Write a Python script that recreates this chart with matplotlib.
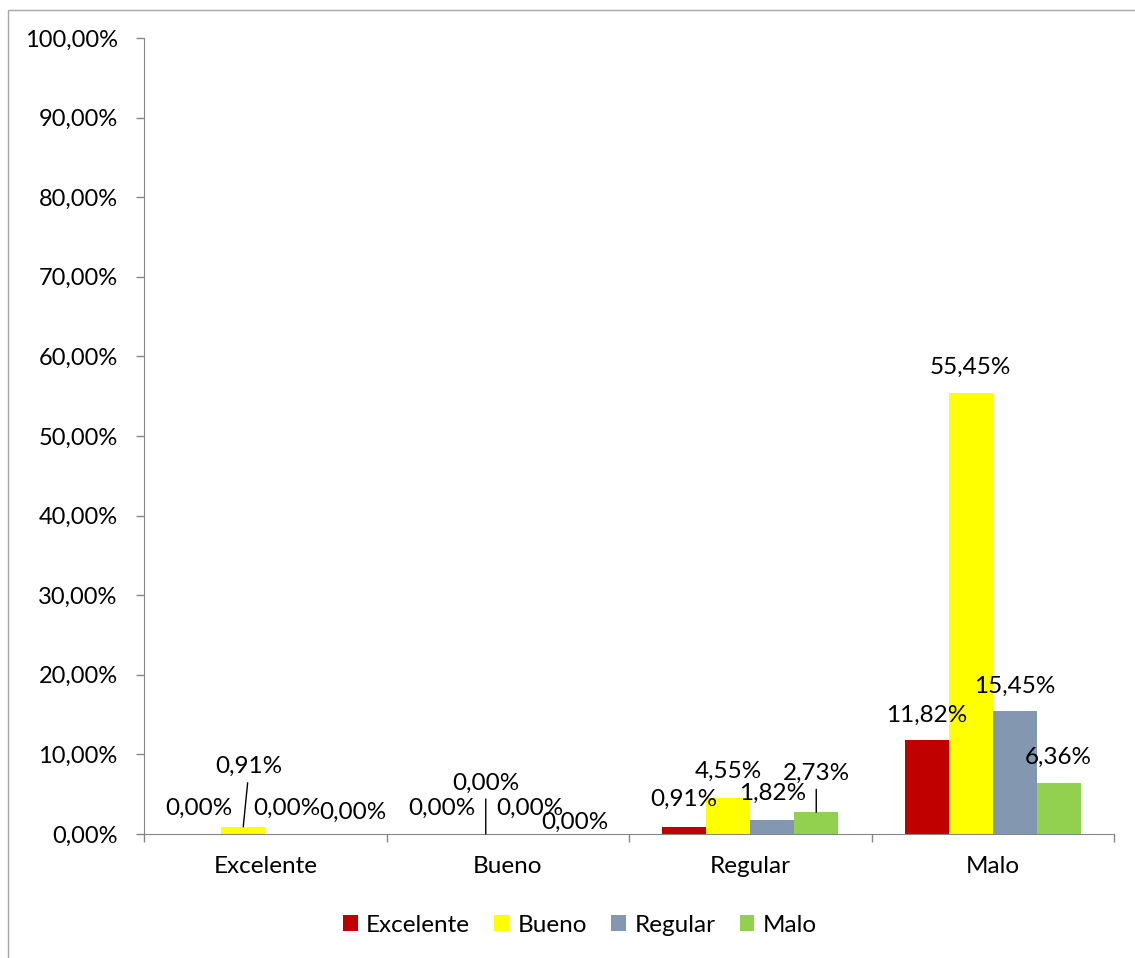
import numpy as np
import matplotlib.pyplot as plt
from matplotlib.patches import Rectangle

plt.rcParams['font.family'] = ['Lato', 'DejaVu Sans']

# ── Datos ──────────────────────────────────────────────────────────────────
categorias = ['Excelente', 'Bueno', 'Regular', 'Malo']
series = ['Excelente', 'Bueno', 'Regular', 'Malo']
excelente = [0.00, 0.00, 0.91, 11.82]
bueno = [0.91, 0.00, 4.55, 55.45]
regular = [0.00, 0.00, 1.82, 15.45]
malo = [0.00, 0.00, 2.73, 6.36]
valores = [excelente, bueno, regular, malo]

colores = ['#C00000', '#FFFF00', '#8497B0', '#92D050']

# desplazamiento de etiquetas (px) y si llevan línea guía
desp = [
    [(0, 26, False), (0, 26, False), (0, 27, False), (0, 25, False)],
    [(6, 60, True), (0, 51, True), (0, 26, False), (0, 25, False)],
    [(0, 26, False), (0, 26, False), (0, 26, False), (0, 25, False)],
    [(22, 22, False), (1, 12, False), (0, 39, True), (0, 26, False)],
]

W, H = 1135, 958
fig = plt.figure(figsize=(W / 100, H / 100), dpi=100)
ax = fig.add_axes([144 / W, 1 - 834 / H, (1114 - 144) / W, (834 - 38) / H])

# marco del gráfico
fig.patches.append(Rectangle((8 / W, -0.01), 1.0, 1 - 10 / H + 0.01,
                             transform=fig.transFigure, fill=False,
                             edgecolor='#A6A6A6', lw=1.0))

x = np.arange(len(categorias))
ancho = 44 / 242.5
fs = 17.5

for i, (nombre, vals, col) in enumerate(zip(series, valores, colores)):
    pos = x + (i - 1.5) * ancho
    ax.bar(pos, vals, width=ancho, color=col, label=nombre, edgecolor='none')
    for j, (xp, v) in enumerate(zip(pos, vals)):
        dx, dy, guia = desp[i][j]
        txt = f'{v:.2f}%'.replace('.', ',')
        if guia:
            ax.annotate(txt, xy=(xp, v), xytext=(dx, dy),
                        textcoords='offset pixels', ha='center', va='center',
                        fontsize=fs,
                        arrowprops=dict(arrowstyle='-', color='black', lw=1,
                                        shrinkA=2, shrinkB=0))
        else:
            ax.annotate(txt, xy=(xp, v), xytext=(dx, dy),
                        textcoords='offset pixels', ha='center', va='center',
                        fontsize=fs)

ax.set_xlim(-0.5, 3.5)
ax.set_ylim(0, 100)
ax.set_yticks(np.arange(0, 101, 10))
ax.set_yticklabels([f'{v:.2f}%'.replace('.', ',') for v in np.arange(0, 101, 10)],
                   fontsize=17)
ax.set_xticks(x)
ax.set_xticklabels(categorias, fontsize=fs)
ax.set_xticks(np.arange(-0.5, 4, 1), minor=True)
ax.tick_params(axis='x', which='major', length=0, pad=16)
ax.tick_params(axis='x', which='minor', length=6, color='#868686', width=1)
ax.tick_params(axis='y', length=6, color='#868686', width=1, pad=13)

for s in ['top', 'right']:
    ax.spines[s].set_visible(False)
for s in ['left', 'bottom']:
    ax.spines[s].set_color('#868686')

fig.legend(loc='center', bbox_to_anchor=(580 / W, 1 - 925 / H), ncol=4,
           frameon=False, fontsize=fs, handlelength=0.6, handleheight=0.6,
           handletextpad=0.35, columnspacing=1.0)

fig.savefig('out.png', dpi=100)
